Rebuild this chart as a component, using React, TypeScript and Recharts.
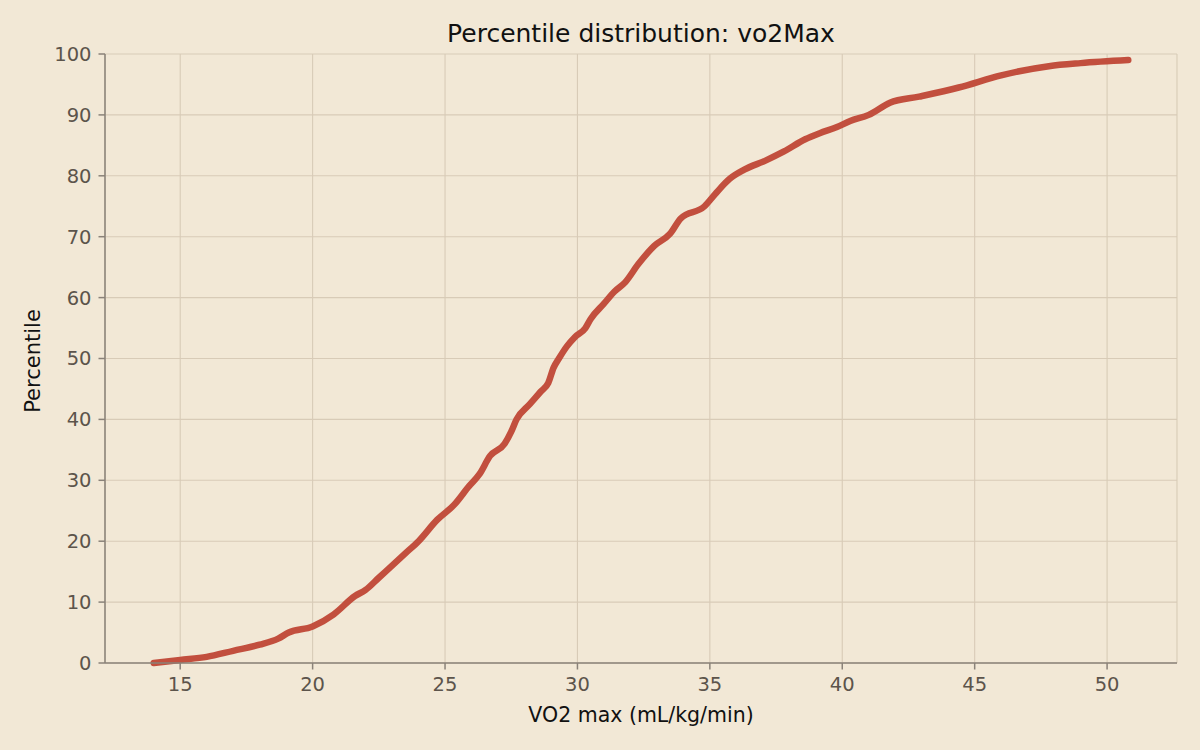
import { LineChart, Line, XAxis, YAxis, CartesianGrid } from "recharts";

// VO2 max (mL/kg/min)
const vo2 = [
  14.0, 15.0, 16.0, 17.0, 18.0, 18.7, 19.1, 20.0, 20.8, 21.6, 22.0, 22.5, 23.0, 23.5, 24.0,
  24.7, 25.35, 25.9, 26.3, 26.7, 27.25, 27.5, 27.7, 28.2, 28.6, 28.9, 29.1, 29.3, 29.6, 29.9,
  30.3, 30.5, 31.0, 31.4, 31.8, 32.3, 32.9, 33.5, 33.9, 34.8, 35.2, 35.75, 36.3, 37.1, 37.8,
  38.6, 39.15, 39.8, 40.3, 41.0, 41.8, 42.9, 44.4, 46.0, 47.8, 49.0, 50.8,
];
// percentile at each of the above
const pct = [
  0, 0.5, 1, 2, 3, 4, 5, 6, 8, 11, 12, 14, 16, 18, 20,
  23.5, 26, 29, 31, 34, 36, 38, 40, 42.5, 44.5, 46, 48.5, 50, 52, 53.5,
  55, 56.5, 59, 61, 62.5, 65.5, 68.5, 70.5, 73, 75, 77, 79.5, 81, 82.5, 84,
  86, 87, 88, 89, 90, 92, 93, 94.5, 96.5, 98, 98.5, 99,
];

const xTicks = [15, 20, 25, 30, 35, 40, 45, 50];
const yTicks = [0, 10, 20, 30, 40, 50, 60, 70, 80, 90, 100];

const data = vo2.map((v, i) => ({ vo2: v, pct: pct[i] }));

const FONT = "DejaVu Sans, Verdana, sans-serif";
const tickStyle = { fontSize: 19.5, fill: "#5c544b", fontFamily: FONT };

export default function App() {
  return (
    <div style={{ position: "absolute", top: 0, left: 0, width: 1200, height: 750, background: "#f2e8d6", fontFamily: FONT }}>
      <div style={{ position: "absolute", top: 19, left: 105, width: 1072, textAlign: "center", fontSize: 25, lineHeight: "30px", color: "#111" }}>
        Percentile distribution: vo2Max
      </div>
      <div style={{ position: "absolute", top: 702, left: 105, width: 1072, textAlign: "center", fontSize: 20.5, lineHeight: "26px", color: "#111" }}>
        VO2 max (mL/kg/min)
      </div>
      <div style={{ position: "absolute", top: 361, left: 33, transform: "translate(-50%, -50%) rotate(-90deg)", fontSize: 21, lineHeight: "26px", color: "#111", whiteSpace: "nowrap" }}>
        Percentile
      </div>
      <LineChart width={1200} height={750} data={data} margin={{ top: 54, right: 23, bottom: 27, left: 45 }}>
        <CartesianGrid stroke="#d8cbb7" strokeWidth={1.1} />
        <XAxis
          dataKey="vo2"
          type="number"
          domain={[12.16, 52.64]}
          allowDataOverflow
          ticks={xTicks}
          height={60}
          tick={tickStyle}
          tickSize={6.5}
          tickMargin={8}
          stroke="#8a8279"
          strokeWidth={1.5}
        />
        <YAxis
          type="number"
          domain={[0, 100]}
          ticks={yTicks}
          width={60}
          tick={tickStyle}
          tickSize={6.5}
          tickMargin={7}
          stroke="#8a8279"
          strokeWidth={1.5}
        />
        <Line
          type="monotone"
          dataKey="pct"
          stroke="#c24f3e"
          strokeWidth={6.5}
          strokeLinecap="round"
          strokeLinejoin="round"
          dot={false}
          isAnimationActive={false}
        />
      </LineChart>
    </div>
  );
}
